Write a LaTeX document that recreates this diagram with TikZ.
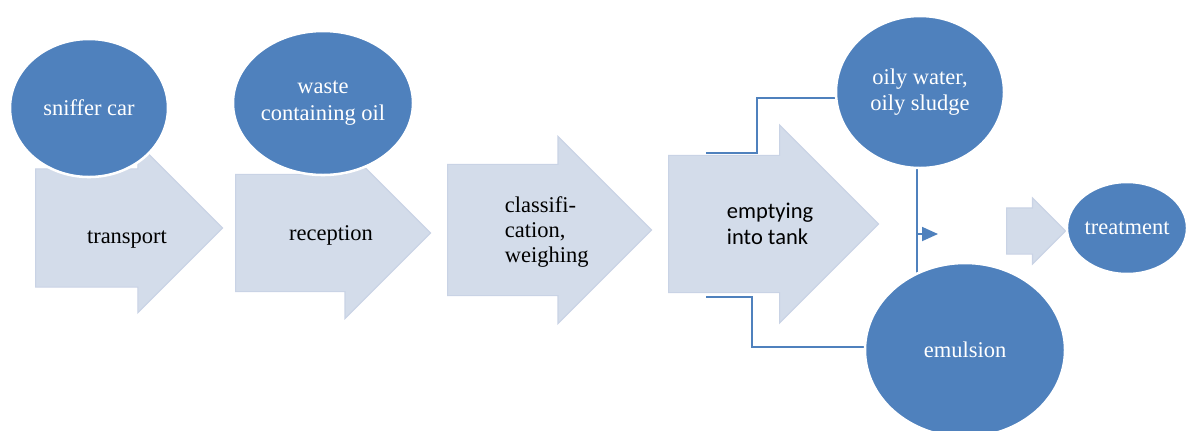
\documentclass[tikz,border=0pt]{standalone}
\usepackage{fontspec}
\setmainfont{Liberation Serif}
\newfontfamily\calibrifont{Carlito}
\usetikzlibrary{shapes.geometric, shapes.arrows, arrows.meta}

\definecolor{blobblue}{HTML}{4F81BD}
\definecolor{stepfill}{HTML}{D3DCEA}
\definecolor{stepedge}{HTML}{C9D3E5}

\begin{document}
\begin{tikzpicture}[
    x=0.025cm, y=-0.025cm,
    blockarrow/.style={single arrow, fill=stepfill, draw=stepedge, line width=0.8pt, single arrow tip angle=90, inner xsep=0pt, anchor=tail},
    blob/.style={ellipse, fill=blobblue, draw=white, line width=1.8pt, inner sep=0pt, text=white, align=center, font=\fontsize{16}{19}\selectfont},
    steptext/.style={font=\fontsize{16}{17.5}\selectfont, align=left},
    flowline/.style={draw=blobblue, line width=1.3pt},
    flow/.style={flowline, -{Triangle[length=0.4cm, width=0.35cm]}}
]
\useasboundingbox (0,0) rectangle (1186,430);
\clip (0,0) rectangle (1186,430);

% Process steps
\node[blockarrow, minimum height=4.675cm, minimum width=4.2cm, inner ysep=1.4625cm, single arrow head extend=0.64cm] (transport) at (35,228) {};
\node[blockarrow, minimum height=4.875cm, minimum width=4.25cm, inner ysep=1.45cm, single arrow head extend=0.675cm] (reception) at (235,233) {};
\node[blockarrow, minimum height=5.1cm, minimum width=4.65cm, inner ysep=1.625cm, single arrow head extend=0.7cm] (classification) at (447,230) {};
\node[blockarrow, minimum height=5.25cm, minimum width=4.925cm, inner ysep=1.7cm, single arrow head extend=0.76cm] (tank) at (668,224) {};
\node[blockarrow, minimum height=1.475cm, minimum width=1.625cm, inner ysep=0.5625cm, single arrow head extend=0.25cm] (totreatment) at (1006,231) {};

% Step labels
\node[steptext] (transportlabel) at (127,240) {transport};
\node[steptext] (receptionlabel) at (331,235) {reception};
\node[steptext, anchor=west] (classlabel) at (500,232) {classifi-\\cation,\\weighing};
\node[steptext, anchor=west, font=\calibrifont\fontsize{16}{18.5}\selectfont] (tanklabel) at (722,224) {emptying\\into tank};

% Split and merge lines
\coordinate (toOily) at (706,153);
\coordinate (toEmul) at (706,297);
\coordinate (oilyIn) at (860,98);
\coordinate (emulIn) at (890,347);
\coordinate (oilyOut) at (898,124);
\coordinate (emulOut) at (895,347);
\coordinate (merge) at (917,234);
\coordinate (mergeTip) at (938,234);

\draw[flow] (toOily) -- ++(51,0) |- (oilyIn);
\draw[flow] (toEmul) -- ++(46,0) |- (emulIn);
\draw[flowline] (oilyOut) -| (merge);
\draw[flowline] (emulOut) -| (merge);
\draw[flow] (merge) -- (mergeTip);

% Materials
\node[blob, minimum width=3.95cm, minimum height=3.45cm] (sniffer) at (89,108) {sniffer car};
\node[blob, minimum width=4.5cm, minimum height=3.6cm] (waste) at (323,103) {waste\\containing oil};
\node[blob, minimum width=4.2cm, minimum height=3.8cm] (oily) at (920,92) {oily water,\\oily sludge};
\node[blob, minimum width=5cm, minimum height=4.35cm] (emulsion) at (965,350) {emulsion};
\node[blob, minimum width=2.9cm, minimum height=2.3cm] (treatment) at (1127,228) {treatment};

\end{tikzpicture}
\end{document}
